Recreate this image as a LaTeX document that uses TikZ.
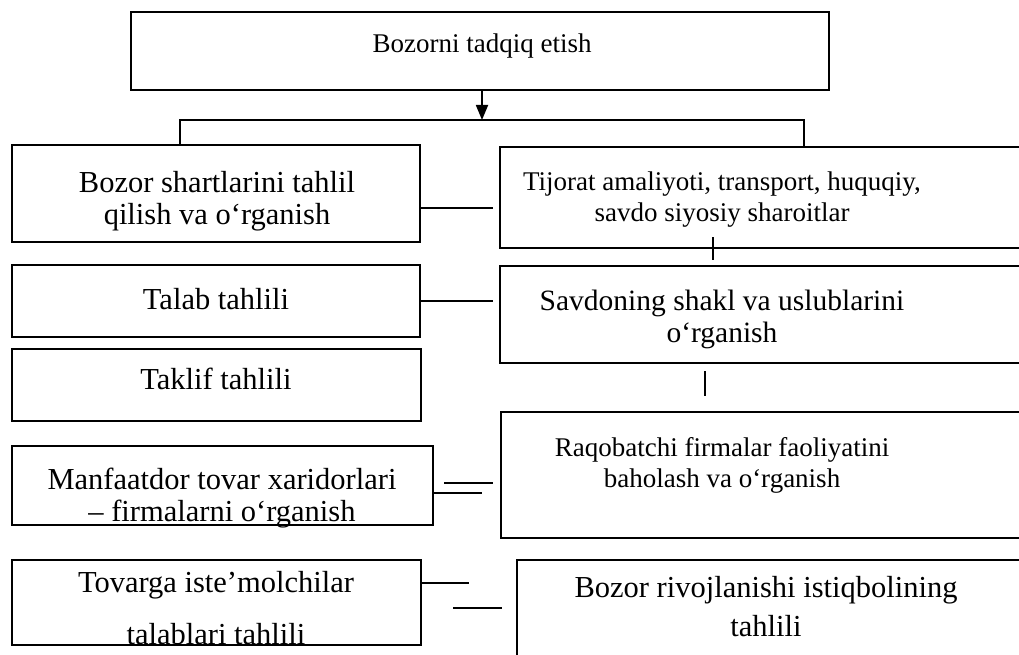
\documentclass[tikz,border=0pt]{standalone}
\usepackage{fontspec}
\setmainfont{Liberation Serif}
\usetikzlibrary{arrows.meta,fit}
\begin{document}
\begin{tikzpicture}[x=1pt,y=-1pt,
  box/.style={draw, line width=1.8pt, inner sep=0pt, outer sep=0pt},
  link/.style={line width=1.8pt},
  lbl/.style={anchor=base, inner sep=0pt, font=\fontsize{27}{31}\selectfont},
  lblmid/.style={lbl, font=\fontsize{29.5}{34}\selectfont},
  lblbig/.style={lbl, font=\fontsize{30.5}{35}\selectfont}]
\clip (0,0) rectangle (1019,655);

% boxes
\node[box, fit={(131,12) (829,90)}] (top) {};
\node[box, fit={(12,145) (420,242)}] (L1) {};
\node[box, fit={(12,265) (420,337)}] (L2) {};
\node[box, fit={(12,349) (421,421)}] (L3) {};
\node[box, fit={(12,446) (433,525)}] (L4) {};
\node[box, fit={(12,560) (421,645)}] (L5) {};
\node[box, fit={(500,147) (1040,248)}] (R1) {};
\node[box, fit={(500,266) (1040,363)}] (R2) {};
\node[box, fit={(501,412) (1040,538)}] (R3) {};
\node[box, fit={(517,560) (1040,680)}] (R5) {};

% labels
\node[lbl] (ttop) at (482,53) {Bozorni tadqiq etish};
\node[lblbig] (tl1a) at (217,193) {Bozor shartlarini tahlil};
\node[lblbig] (tl1b) at (217,224) {qilish va o‘rganish};
\node[lbl] (tr1a) at (722,190) {Tijorat amaliyoti, transport, huquqiy,};
\node[lbl] (tr1b) at (722,221) {savdo siyosiy sharoitlar};
\node[lblbig] (tl2) at (216,309) {Talab tahlili};
\node[lblmid] (tr2a) at (722,310) {Savdoning shakl va uslublarini};
\node[lblmid] (tr2b) at (722,342) {o‘rganish};
\node[lblbig] (tl3) at (216,389) {Taklif tahlili};
\node[lbl] (tr3a) at (722,456) {Raqobatchi firmalar faoliyatini};
\node[lbl] (tr3b) at (722,487) {baholash va o‘rganish};
\node[lblbig] (tl4a) at (222,489) {Manfaatdor tovar xaridorlari};
\node[lblbig] (tl4b) at (222,521) {– firmalarni o‘rganish};
\node[lblbig] (tr5a) at (766,597) {Bozor rivojlanishi istiqbolining};
\node[lblbig] (tr5b) at (766,636) {tahlili};
\node[lblbig] (tl5a) at (216,592) {Tovarga iste’molchilar};
\begin{scope}
  \clip (L5.north west) rectangle ([yshift=1pt]L5.south east);
  \node[lblbig] (tl5b) at (216,644) {talablari tahlili};
\end{scope}

% main arrow and fork
\coordinate (fork) at (482,120);
\coordinate (forkL) at (180,120);
\coordinate (forkR) at (804,120);
\draw[link, -{Triangle[length=15pt,width=12pt]}] (top.south -| fork) -- (fork);
\draw[link] (L1.north -| forkL) -- (forkL) -- (forkR) -- (R1.north -| forkR);

% connectors between the two columns
\draw[link, shorten >=7pt] (L1.east |- 0,208) -- (R1.west |- 0,208);
\draw[link, shorten >=7pt] (L2.east |- 0,301) -- (R2.west |- 0,301);
\draw[link, shorten <=11pt, shorten >=8pt] (L4.east |- 0,483) -- (R3.west |- 0,483);
\draw[link, shorten >=19pt] (L4.east |- 0,493) -- (R3.west |- 0,493);
\draw[link, shorten >=48pt] (L5.east |- 0,583) -- (R5.west |- 0,583);
\draw[link, shorten <=32pt, shorten >=15pt] (L5.east |- 0,608) -- (R5.west |- 0,608);

% short ticks in the right column
\draw[link] (R1.south -| 713,0) ++(0,-11) -- ++(0,23);
\draw[link] (R2.south -| 705,0) ++(0,8) -- ++(0,25);
\end{tikzpicture}
\end{document}
